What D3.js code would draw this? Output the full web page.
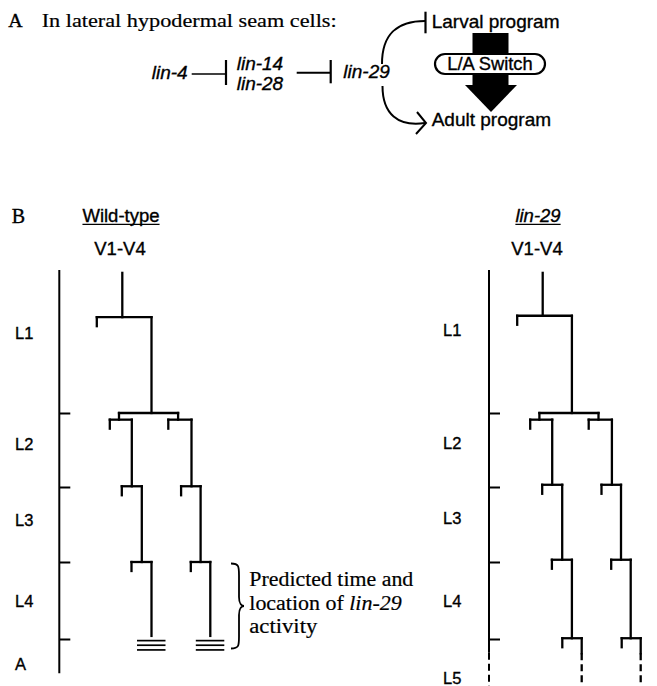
<!DOCTYPE html>
<html><head><meta charset="utf-8">
<script src="https://cdn.jsdelivr.net/npm/d3@7"></script>
<style>body{margin:0;background:#fff}svg{display:block}svg text{stroke:#000;stroke-width:0.35px}</style>
</head><body>
<svg id="c" width="657" height="686"></svg>
<script>
// ---------- data ----------
const panelLetters = ["A", "B"];
const headerText = "In lateral hypodermal seam cells:";
const geneNames = ["lin-4", "lin-14", "lin-28", "lin-29"];
const programs = ["Larval program", "Adult program"];
const switchLabel = "L/A Switch";
const panelTitles = ["Wild-type", "lin-29"];
const cellGroup = "V1-V4";
const stagesWT = ["L1", "L2", "L3", "L4", "A"];
const stagesLin29 = ["L1", "L2", "L3", "L4", "L5"];
const stageLabelTimeWT = [0.44, 1.425, 2.44, 3.51, 4.33];
const stageLabelTimeLin29 = [0.42, 1.40, 2.41, 3.50, 4.51];
const moltTimes = [1, 2, 3, 4];
// seam cell lineage (Sulston names), horizontal lineage position, division time (stage units)
const cells = ["Vn","Vn.a","Vn.p","Vn.pa","Vn.pp","Vn.paa","Vn.pap","Vn.ppa","Vn.ppp",
  "Vn.papa","Vn.papp","Vn.pppa","Vn.pppp","Vn.pappa","Vn.pappp","Vn.ppppa","Vn.ppppp",
  "Vn.papppa","Vn.papppp","Vn.pppppa","Vn.pppppp"];
const cellPos = [0, -2.55, 2.92, -0.33, 5.58, -1.25, 0.95, 4.6, 6.92,
  -0.05, 1.95, 5.88, 7.83, 0.92, 2.92, 6.85, 8.8,
  1.96, 3.9, 7.9, 9.8];
const divisionWT = [0.33, null, 1.0, 1.09, 1.09, null, 1.99, null, 1.99,
  null, 3.0, null, 3.0, null, 3.96, null, 3.96];
const divisionLin29 = [0.32, null, 1.0, 1.09, 1.09, null, 1.97, null, 1.97,
  null, 2.97, null, 2.97, null, 3.99, null, 3.99,
  null, 4.62, null, 4.62];
const calloutLines = ["Predicted time and", "location of ", "lin-29", "activity"];

// ---------- setup ----------
const SANS = "'Liberation Sans', Arial, Helvetica, sans-serif";
const SERIF = "'Liberation Serif', 'Times New Roman', serif";
const svg = d3.select("#c");
const ink = "#000";

// ---------- Part A ----------
const gA = svg.append("g");
gA.append("text").attr("x", 8.3).attr("y", 27).attr("font-family", SERIF).attr("font-size", 19)
  .attr("textLength", 14.4).attr("lengthAdjust", "spacingAndGlyphs").text(panelLetters[0]);
gA.append("text").attr("x", 41.7).attr("y", 27).attr("font-family", SERIF).attr("font-size", 19)
  .style("stroke-width", "0.2px")
  .attr("textLength", 295).attr("lengthAdjust", "spacingAndGlyphs").text(headerText);

const geneText = (t, x, y) => gA.append("text").attr("x", x).attr("y", y)
  .attr("font-family", SANS).attr("font-style", "italic").attr("font-size", 19).attr("fill", ink).text(t);
geneText(geneNames[0], 151.7, 79.3);
geneText(geneNames[1], 236.7, 70);
geneText(geneNames[2], 236.7, 90);
geneText(geneNames[3], 343.3, 78.3);

const seg = (g, x1, y1, x2, y2, w) => g.append("line").attr("x1", x1).attr("y1", y1)
  .attr("x2", x2).attr("y2", y2).attr("stroke", ink).attr("stroke-width", w || 2);
// inhibitions
seg(gA, 191.7, 74, 225, 74, 1.4);
seg(gA, 226, 60, 226, 85, 2.2);
seg(gA, 296.7, 72.7, 330, 72.7, 2);
seg(gA, 330.7, 60, 330.7, 83.3, 2.2);
// lin-29 -| larval program
gA.append("path").attr("d", "M382,64 C382,33 398,21 425,21").attr("fill", "none").attr("stroke", ink).attr("stroke-width", 2);
seg(gA, 425.5, 11.7, 425.5, 33.3, 2.2);
// lin-29 -> adult program
gA.append("path").attr("d", "M382.5,86 C382.5,114 398,127 425,123").attr("fill", "none").attr("stroke", ink).attr("stroke-width", 2);
gA.append("path").attr("d", "M417,112 L426,123 L416,134").attr("fill", "none").attr("stroke", ink).attr("stroke-width", 2);

gA.append("text").attr("x", 431.7).attr("y", 27.5).attr("font-family", SANS).attr("font-size", 19).text(programs[0]);
gA.append("text").attr("x", 431.7).attr("y", 126).attr("font-family", SANS).attr("font-size", 19).text(programs[1]);
// big black arrow with switch
gA.append("rect").attr("x", 472.5).attr("y", 33).attr("width", 36).attr("height", 53).attr("fill", ink);
gA.append("path").attr("d", "M465,85 L517,85 L491,112 Z").attr("fill", ink);
gA.append("rect").attr("x", 435).attr("y", 54).attr("width", 110).attr("height", 20).attr("rx", 10)
  .attr("fill", "#fff").attr("stroke", ink).attr("stroke-width", 2.2);
gA.append("text").attr("x", 490).attr("y", 70.4).attr("text-anchor", "middle").attr("font-family", SANS)
  .attr("font-size", 18.3).text(switchLabel);

// ---------- Part B ----------
svg.append("text").attr("x", 11.7).attr("y", 223).attr("font-family", SERIF).attr("font-size", 20).text(panelLetters[1]);

const y = d3.scaleLinear().domain([0, ...moltTimes, 5]).range([270, 413, 487, 562, 639, 715]);
const STUB = 9;

function drawPanel(opt) {
  const g = svg.append("g");
  const x = d3.scaleLinear().domain([0, 1]).range([opt.rootX, opt.rootX + 10]);
  // title
  const t = g.append("text").attr("x", opt.titleX).attr("y", 221.6).attr("text-anchor", "middle")
    .attr("font-family", SANS).attr("font-size", 18.5).attr("font-style", opt.italic ? "italic" : "normal")
    .text(opt.title);
  const bb = t.node().getBBox();
  seg(g, bb.x, 224.3, bb.x + bb.width, 224.3, 1.3);
  g.append("text").attr("x", opt.titleX - 1).attr("y", 255).attr("text-anchor", "middle")
    .attr("font-family", SANS).attr("font-size", 18.5).text(cellGroup);

  // time axis
  const axis = d3.axisRight(y).tickValues(moltTimes).tickSize(11).tickSizeOuter(0).tickFormat(() => "");
  const ax = g.append("g").attr("transform", `translate(${opt.axisX},0)`).call(axis);
  ax.select(".domain").remove();
  ax.selectAll(".tick line").attr("stroke", ink).attr("stroke-width", 2);
  if (opt.dashed) {
    seg(g, opt.axisX, y(0), opt.axisX, y(4.18), 2);
    seg(g, opt.axisX, y(4.18), opt.axisX, y(4.62), 2).attr("stroke-dasharray", "7,4");
  } else {
    seg(g, opt.axisX, y(0), opt.axisX, y(4.45), 2);
  }
  // stage labels
  g.selectAll("text.stage").data(opt.stages).join("text").attr("class", "stage")
    .attr("x", opt.labelX).attr("y", (d, i) => y(opt.stageT[i])).attr("dominant-baseline", "central")
    .attr("font-family", SANS).attr("font-size", 16.5).text(d => d);

  // lineage
  const rows = cells.map((c, i) => ({ id: c, pos: cellPos[i], end: opt.ends[i] }))
    .filter((d, i) => i < opt.ends.length);
  const root = d3.stratify().id(d => d.id)
    .parentId(d => d.id === "Vn" ? null : (d.id.length === 4 ? "Vn" : d.id.slice(0, -1)))(rows);
  const LW = 2.3;
  const lg = g.append("g").attr("stroke", ink).attr("stroke-linecap", "square");
  root.each(node => {
    const start = node.parent ? node.parent.data.end : 0.02;
    const xx = x(node.data.pos);
    const ys = y(start);
    if (node.data.end == null) {
      seg(lg, xx, ys, xx, ys + STUB, LW);
      return;
    }
    const ye = y(node.data.end);
    if (!node.children && opt.dashed) {
      seg(lg, xx, ys, xx, ys + 15, LW);
      seg(lg, xx, ys + 15, xx, ye, LW).attr("stroke-dasharray", "7,4").attr("stroke-linecap", "butt");
      return;
    }
    seg(lg, xx, ys, xx, ye, LW);
    if (node.children) {
      const ext = d3.extent(node.children, c => x(c.data.pos));
      seg(lg, ext[0], ye, ext[1], ye, LW);
    } else {
      [4.7, 9.3, 14].forEach(o => seg(g, xx - 14.5, ye + o, xx + 14, ye + o, 1.7));
    }
  });
  return g;
}

const gWT = drawPanel({ title: panelTitles[0], italic: false, titleX: 121, axisX: 59.3, rootX: 122.3,
  labelX: 15, stages: stagesWT, stageT: stageLabelTimeWT, ends: divisionWT, dashed: false });
drawPanel({ title: panelTitles[1], italic: true, titleX: 538, axisX: 489, rootX: 542.7,
  labelX: 443, stages: stagesLin29, stageT: stageLabelTimeLin29, ends: divisionLin29, dashed: true });

// brace + callout
const bL = 231, bR = 244, bM = 239, bT = 563.5, bB = 648.5, bMid = 606;
gWT.append("path").attr("fill", "none").attr("stroke", ink).attr("stroke-width", 1.8)
  .attr("d", `M${bL},${bT} C${bM},${bT} ${bM},${bT + 3} ${bM},${bT + 12} L${bM},${bMid - 9}
   C${bM},${bMid - 2} ${bR - 2},${bMid} ${bR},${bMid} C${bR - 2},${bMid} ${bM},${bMid + 2} ${bM},${bMid + 9}
   L${bM},${bB - 12} C${bM},${bB - 3} ${bM},${bB} ${bL},${bB}`);
const ct = (yy) => gWT.append("text").attr("x", 249.3).attr("y", yy).attr("font-family", SERIF).attr("font-size", 20)
  .style("stroke-width", "0.2px");
ct(586).attr("textLength", 164).attr("lengthAdjust", "spacingAndGlyphs").text(calloutLines[0]);
const l2 = ct(610).attr("textLength", 152.4).attr("lengthAdjust", "spacingAndGlyphs");
l2.append("tspan").text(calloutLines[1]);
l2.append("tspan").attr("font-style", "italic").text(calloutLines[2]);
ct(633.3).attr("textLength", 68).attr("lengthAdjust", "spacingAndGlyphs").text(calloutLines[3]);
</script>
</body></html>
